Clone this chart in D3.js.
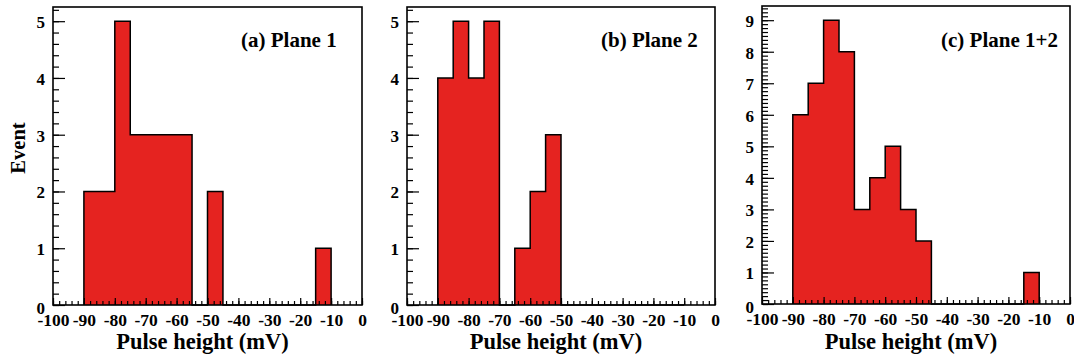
<!DOCTYPE html>
<html><head><meta charset="utf-8">
<script src="https://cdn.jsdelivr.net/npm/d3@7"></script>
<style>
body{margin:0;background:#fff}
text{font-family:"Liberation Serif","Times New Roman",serif;font-weight:bold;fill:#000}
</style></head>
<body><svg id="chart" width="1074" height="363"></svg>
<script>
// ---- data ----
const binLow = [-90,-85,-80,-75,-70,-65,-60,-55,-50,-45,-40,-35,-30,-25,-20,-15];
const binWidth = 5;
const countsPlane1 = [2,2,5,3,3,3,3,0,2,0,0,0,0,0,0,1];
const countsPlane2 = [4,5,4,5,0,1,2,3,0,0,0,0,0,0,0,0];
const countsPlane12 = [6,7,9,8,3,4,5,3,2,0,0,0,0,0,0,1];
const xTickValues = [-100,-90,-80,-70,-60,-50,-40,-30,-20,-10,0];
const xTickLabels = ["-100","-90","-80","-70","-60","-50","-40","-30","-20","-10","0"];
const panelTitles = ["(a) Plane 1","(b) Plane 2","(c) Plane 1+2"];
const yAxisTitle = "Event";
const xAxisTitle = "Pulse height (mV)";

// ---- layout ----
const panels = [
  {counts: countsPlane1,  title: panelTitles[0], L: 53,  R: 362,  T: 7, B: 305, ymax: 5.25, minorY: 0.2,   titleX: 241, yTitle: true},
  {counts: countsPlane2,  title: panelTitles[1], L: 407, R: 715,  T: 7, B: 305, ymax: 5.25, minorY: 0.2,   titleX: 601, yTitle: false},
  {counts: countsPlane12, title: panelTitles[2], L: 762, R: 1070, T: 6, B: 304, ymax: 9.45, minorY: 0.125, titleX: 941, yTitle: false}
];
const RED = "#e52320";
const svg = d3.select("#chart");
const FONT = '"Liberation Serif","Times New Roman",serif';

panels.forEach(p => {
  const g = svg.append("g");
  const x = d3.scaleLinear().domain([-100, 0]).range([p.L, p.R]);
  const y = d3.scaleLinear().domain([0, p.ymax]).range([p.B, p.T]);

  // histogram step outline
  const pts = [[binLow[0], 0]];
  p.counts.forEach((v, i) => { pts.push([binLow[i], v]); pts.push([binLow[i] + binWidth, v]); });
  pts.push([binLow[binLow.length - 1] + binWidth, 0]);
  const line = d3.line().x(d => x(d[0])).y(d => y(d[1]));
  g.append("path").attr("d", line(pts) + "Z").attr("fill", RED).attr("stroke", "none");
  g.append("path").attr("d", line(pts)).attr("fill", "none").attr("stroke", "#000").attr("stroke-width", 1.5);

  // x axis minor ticks
  const xMinor = d3.range(-100, 0.001, 2);
  g.append("g").attr("transform", `translate(0,${p.B})`)
    .call(d3.axisBottom(x).tickValues(xMinor).tickSize(-4).tickFormat(""))
    .call(a => a.select(".domain").remove())
    .selectAll("line").attr("stroke-width", 1.2);
  // x axis major ticks + labels
  const xa = g.append("g").attr("transform", `translate(0,${p.B})`)
    .call(d3.axisBottom(x).tickValues(xTickValues).tickSize(-7)
      .tickFormat((d, i) => xTickLabels[i]))
    .call(a => a.select(".domain").remove());
  xa.selectAll("line").attr("stroke-width", 1.2);
  xa.selectAll("text").attr("y", 21).attr("dy", 0)
    .style("font-size", "17.5px").style("font-family", FONT).style("font-weight", "bold");

  // y axis minor ticks
  const yMinor = d3.range(0, p.ymax + 1e-9, p.minorY);
  g.append("g").attr("transform", `translate(${p.L},0)`)
    .call(d3.axisLeft(y).tickValues(yMinor).tickSize(-6).tickFormat(""))
    .call(a => a.select(".domain").remove())
    .selectAll("line").attr("stroke-width", 1.2);
  // y axis major ticks
  const yMajor = d3.range(0, Math.floor(p.ymax) + 1, 1);
  const ya = g.append("g").attr("transform", `translate(${p.L},0)`)
    .call(d3.axisLeft(y).tickValues(yMajor).tickSize(-12).tickPadding(8).tickFormat(d3.format("d")))
    .call(a => a.select(".domain").remove());
  ya.selectAll("line").attr("stroke-width", 1.2);
  ya.selectAll("text").attr("dy", d => d === 0 ? "0.5em" : "0.38em")
    .style("font-size", "17px").style("font-family", FONT).style("font-weight", "bold");

  // frame
  g.append("rect").attr("x", p.L).attr("y", p.T).attr("width", p.R - p.L).attr("height", p.B - p.T)
    .attr("fill", "none").attr("stroke", "#000").attr("stroke-width", 1.6);

  // panel title
  g.append("text").attr("x", p.titleX).attr("y", 47).style("font-size", "21px").text(p.title);

  // x axis title
  g.append("text").attr("x", (p.L + p.R) / 2 - 5).attr("y", 349).attr("text-anchor", "middle")
    .style("font-size", "22.5px").text(xAxisTitle);

  if (p.yTitle) {
    g.append("text").attr("transform", `translate(25,${148}) rotate(-90)`).attr("text-anchor", "middle")
      .style("font-size", "20.5px").text(yAxisTitle);
  }
});
</script>
</body></html>
